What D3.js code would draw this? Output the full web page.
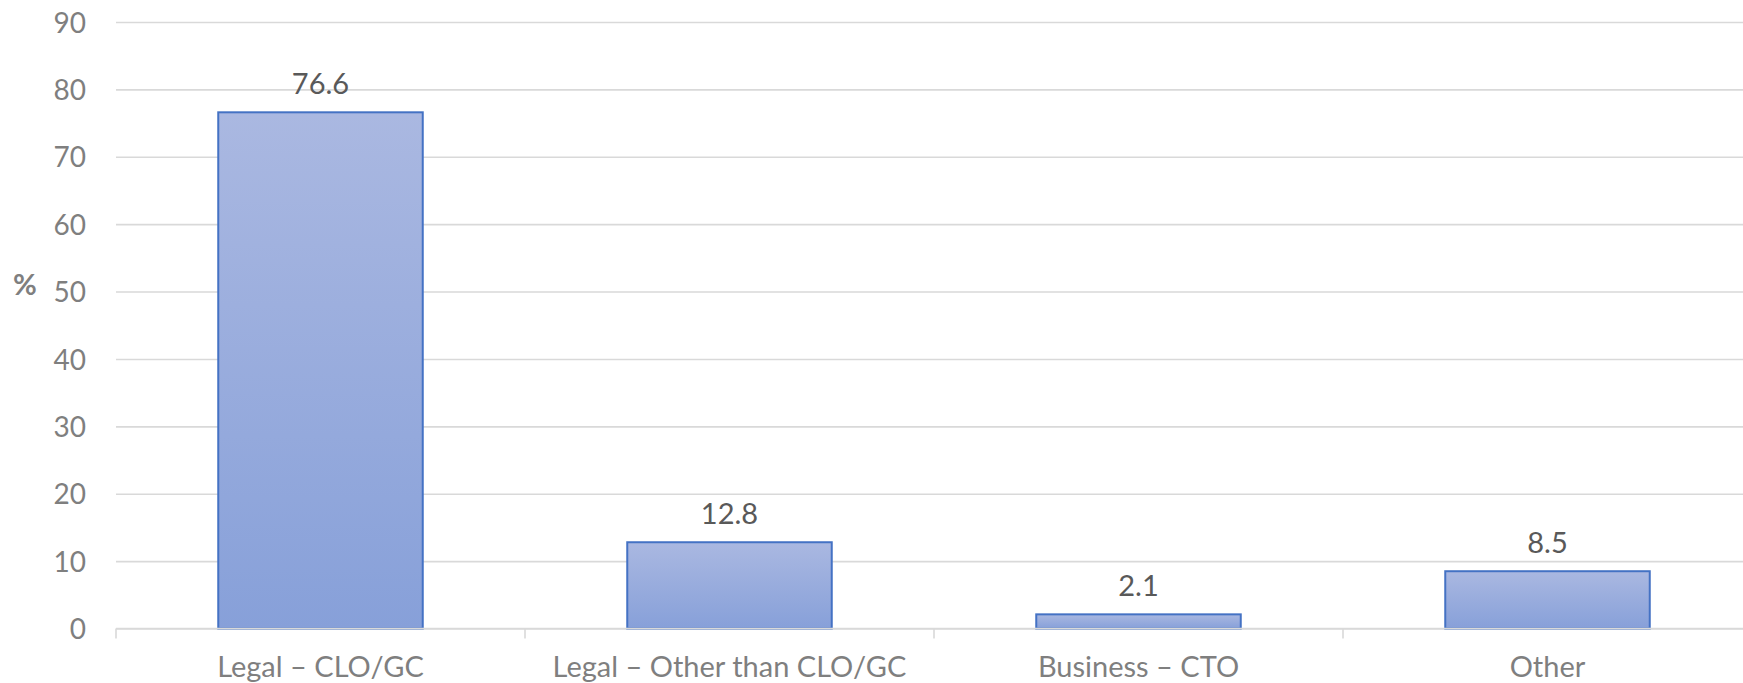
<!DOCTYPE html>
<html>
<head>
<meta charset="utf-8">
<script src="https://cdn.jsdelivr.net/npm/d3@7"></script>
<style>
  html, body { margin: 0; padding: 0; background: #ffffff; }
  svg { display: block; }
  text { font-family: Lato, "Open Sans", sans-serif; }
</style>
</head>
<body>
<svg id="chart" width="1743" height="683"></svg>
<script>
// Role of the respondent (%)
const categories = ["Legal – CLO/GC", "Legal – Other than CLO/GC", "Business – CTO", "Other"];
const values = [76.6, 12.8, 2.1, 8.5];
const yTicks = [0, 10, 20, 30, 40, 50, 60, 70, 80, 90];
const yAxisTitle = "%";

const W = 1743, H = 683;
const plotLeft = 116, plotRight = 1752, plotTop = 22, plotBottom = 628.5;

const svg = d3.select("#chart");

const x = d3.scaleBand()
  .domain(categories)
  .range([plotLeft, plotRight])
  .paddingInner(0.5)
  .paddingOuter(0.25);

const y = d3.scaleLinear()
  .domain([0, 90])
  .range([plotBottom, plotTop]);

// bar gradient
const defs = svg.append("defs");
const grad = defs.append("linearGradient")
  .attr("id", "barFill")
  .attr("x1", 0).attr("y1", 0).attr("x2", 0).attr("y2", 1);
grad.append("stop").attr("offset", "0%").attr("stop-color", "#aab8e1");
grad.append("stop").attr("offset", "100%").attr("stop-color", "#87a0d9");

// horizontal gridlines + tick labels
const yAxis = d3.axisLeft(y)
  .tickValues(yTicks)
  .tickSize(-(W - plotLeft))
  .tickPadding(30)
  .tickFormat(d3.format("d"));

const gy = svg.append("g")
  .attr("transform", `translate(${plotLeft},0)`)
  .call(yAxis);
gy.select(".domain").remove();
gy.selectAll(".tick line")
  .attr("stroke", "#d9d9d9")
  .attr("stroke-width", 1.6);
gy.selectAll(".tick text")
  .attr("fill", "#7f7f7f")
  .attr("font-size", 28)
  .attr("x", -30)
  .attr("dy", "0.36em");

// y axis title
svg.append("text")
  .attr("x", 25)
  .attr("y", y(50) - 4)
  .attr("text-anchor", "middle")
  .attr("dominant-baseline", "middle")
  .attr("fill", "#7f7f7f")
  .attr("font-size", 29)
  .attr("font-weight", 700)
  .text(yAxisTitle);

// bars
svg.append("g")
  .selectAll("rect")
  .data(values)
  .join("rect")
  .attr("x", (d, i) => x(categories[i]))
  .attr("y", d => y(d))
  .attr("width", x.bandwidth())
  .attr("height", d => y(0) - y(d))
  .attr("fill", "url(#barFill)")
  .attr("stroke", "#4472c4")
  .attr("stroke-width", 2);

// category axis line
svg.append("line")
  .attr("x1", plotLeft).attr("x2", W)
  .attr("y1", y(0)).attr("y2", y(0))
  .attr("stroke", "#d9d9d9")
  .attr("stroke-width", 1.6);

// category boundary ticks
const boundaries = d3.range(categories.length + 1).map(i => plotLeft + i * x.step());
svg.append("g")
  .selectAll("line")
  .data(boundaries)
  .join("line")
  .attr("x1", d => d).attr("x2", d => d)
  .attr("y1", y(0)).attr("y2", y(0) + 10)
  .attr("stroke", "#d9d9d9")
  .attr("stroke-width", 1.6);

// category labels
svg.append("g")
  .selectAll("text")
  .data(categories)
  .join("text")
  .attr("x", d => x(d) + x.bandwidth() / 2)
  .attr("y", 677)
  .attr("text-anchor", "middle")
  .attr("fill", "#7f7f7f")
  .attr("font-size", 29)
  .text(d => d);

// value labels
svg.append("g")
  .selectAll("text")
  .data(values)
  .join("text")
  .attr("x", (d, i) => x(categories[i]) + x.bandwidth() / 2)
  .attr("y", d => y(d) - 18)
  .attr("text-anchor", "middle")
  .attr("fill", "#595959")
  .attr("font-size", 29)
  .text(d => d3.format(".1f")(d));
</script>
</body>
</html>
